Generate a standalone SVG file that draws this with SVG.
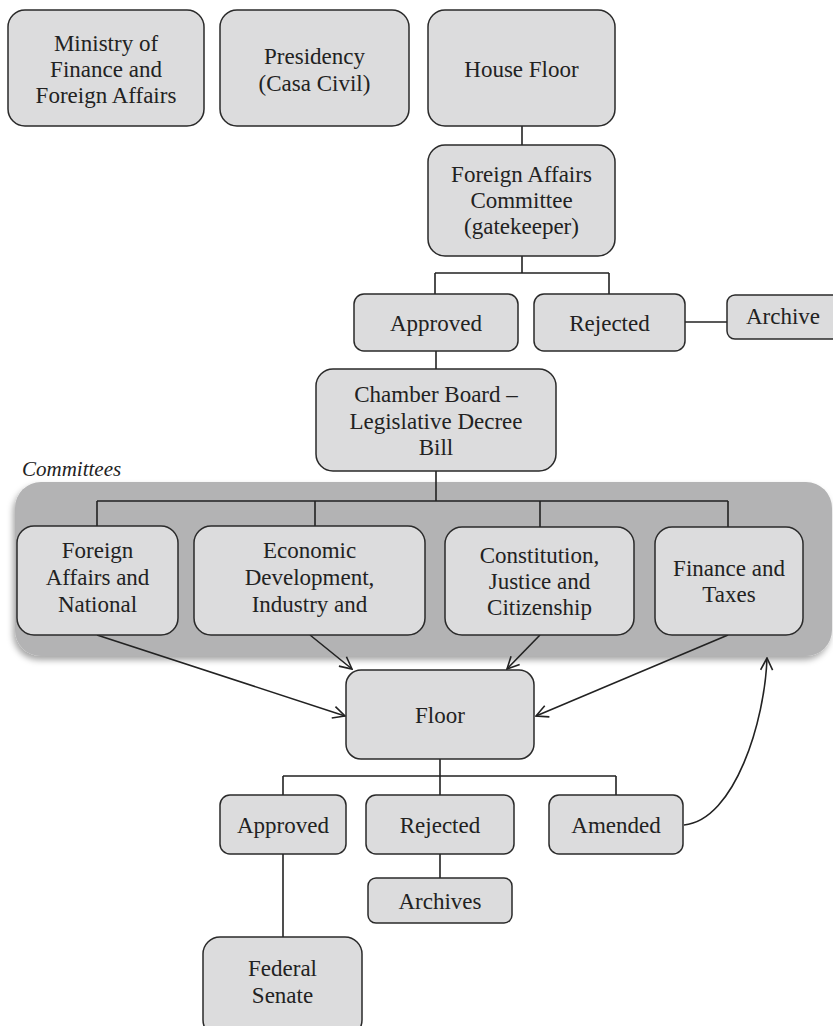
<svg xmlns="http://www.w3.org/2000/svg" width="833" height="1026" viewBox="0 0 833 1026">
<style>
.n{fill:#dcdcdd;stroke:#2a2a2a;stroke-width:1.5}
.t{font-family:"Liberation Serif","Times New Roman",serif;font-size:23px;fill:#222;text-anchor:middle}
.c{fill:none;stroke:#222;stroke-width:1.6}
.a{fill:none;stroke:#222;stroke-width:1.6;marker-end:url(#arr)}
</style>
<defs>
<marker id="arr" viewBox="0 0 14 14" refX="13" refY="7" markerWidth="14" markerHeight="14" markerUnits="userSpaceOnUse" orient="auto">
<path d="M1,1 L13,7 L1,13" fill="none" stroke="#222" stroke-width="1.6"/>
</marker>
<filter id="sh" x="-5%" y="-10%" width="110%" height="125%">
<feDropShadow dx="-2" dy="4" stdDeviation="3" flood-color="#000" flood-opacity="0.35"/>
</filter>
</defs>
<g id="committees-group">
<rect x="15" y="482" width="817" height="174" rx="26" fill="#b3b3b4" filter="url(#sh)"/>
<text x="22" y="476" style="font-family:'Liberation Serif','Times New Roman',serif;font-size:21px;font-style:italic;fill:#222">Committees</text>
</g>
<g id="connectors">
<path class="c" d="M522,126 V145"/>
<path class="c" d="M522,256 V273 M435,273 H609 M435,273 V294 M609,273 V294"/>
<path class="c" d="M685,322 H727"/>
<path class="c" d="M436,351 V369"/>
<path class="c" d="M436,471 V501 M97,501 H728 M97,501 V526 M315,501 V526 M540,501 V527 M728,501 V527"/>
<path class="a" d="M97,635 L345,716"/>
<path class="a" d="M310,635 L352,669"/>
<path class="a" d="M540,635 L507,669"/>
<path class="a" d="M728,635 L536,716"/>
<path class="c" d="M440,759 V776 M283,776 H616 M283,776 V795 M440,776 V795 M616,776 V795"/>
<path class="c" d="M440,854 V878"/>
<path class="c" d="M283,854 V937"/>
<path class="a" d="M684,825 C735,820 765,720 767,658"/>
</g>
<g id="ministry"><rect class="n" x="8" y="10" width="196" height="116" rx="17"/>
<text class="t" x="106" y="51">Ministry of</text><text class="t" x="106" y="77">Finance and</text><text class="t" x="106" y="103">Foreign Affairs</text></g>
<g id="presidency"><rect class="n" x="220" y="10" width="189" height="116" rx="17"/>
<text class="t" x="314.5" y="64">Presidency</text><text class="t" x="314.5" y="91">(Casa Civil)</text></g>
<g id="house-floor"><rect class="n" x="428" y="10" width="187" height="116" rx="17"/>
<text class="t" x="521.5" y="77">House Floor</text></g>
<g id="fac"><rect class="n" x="428" y="145" width="187" height="111" rx="17"/>
<text class="t" x="521.5" y="182">Foreign Affairs</text><text class="t" x="521.5" y="208">Committee</text><text class="t" x="521.5" y="234">(gatekeeper)</text></g>
<g id="approved1"><rect class="n" x="354" y="294" width="164" height="57" rx="10"/>
<text class="t" x="436" y="331">Approved</text></g>
<g id="rejected1"><rect class="n" x="534" y="294" width="151" height="57" rx="10"/>
<text class="t" x="609.5" y="331">Rejected</text></g>
<g id="archive"><rect class="n" x="727" y="295" width="120" height="44" rx="8"/>
<text class="t" x="783" y="324">Archive</text></g>
<g id="chamber-board"><rect class="n" x="316" y="369" width="240" height="102" rx="17"/>
<text class="t" x="436" y="402">Chamber Board –</text><text class="t" x="436" y="429">Legislative Decree</text><text class="t" x="436" y="455">Bill</text></g>
<g id="c-foreign"><rect class="n" x="17" y="526" width="161" height="109" rx="17"/>
<text class="t" x="97.5" y="558">Foreign</text><text class="t" x="97.5" y="585">Affairs and</text><text class="t" x="97.5" y="612">National</text></g>
<g id="c-economic"><rect class="n" x="194" y="526" width="231" height="109" rx="17"/>
<text class="t" x="309.5" y="558">Economic</text><text class="t" x="309.5" y="585">Development,</text><text class="t" x="309.5" y="612">Industry and</text></g>
<g id="c-constitution"><rect class="n" x="445" y="527" width="189" height="108" rx="17"/>
<text class="t" x="539.5" y="563">Constitution,</text><text class="t" x="539.5" y="589">Justice and</text><text class="t" x="539.5" y="615">Citizenship</text></g>
<g id="c-finance"><rect class="n" x="655" y="527" width="148" height="108" rx="17"/>
<text class="t" x="729" y="576">Finance and</text><text class="t" x="729" y="602">Taxes</text></g>
<g id="floor"><rect class="n" x="346" y="670" width="188" height="89" rx="15"/>
<text class="t" x="440" y="723">Floor</text></g>
<g id="approved2"><rect class="n" x="220" y="795" width="126" height="59" rx="10"/>
<text class="t" x="283" y="833">Approved</text></g>
<g id="rejected2"><rect class="n" x="366" y="795" width="148" height="59" rx="10"/>
<text class="t" x="440" y="833">Rejected</text></g>
<g id="amended"><rect class="n" x="549" y="795" width="134" height="59" rx="10"/>
<text class="t" x="616" y="833">Amended</text></g>
<g id="archives"><rect class="n" x="368" y="878" width="144" height="45" rx="8"/>
<text class="t" x="440" y="909">Archives</text></g>
<g id="federal-senate"><rect class="n" x="203" y="937" width="159" height="100" rx="17"/>
<text class="t" x="282.5" y="976">Federal</text><text class="t" x="282.5" y="1003">Senate</text></g>
</svg>
